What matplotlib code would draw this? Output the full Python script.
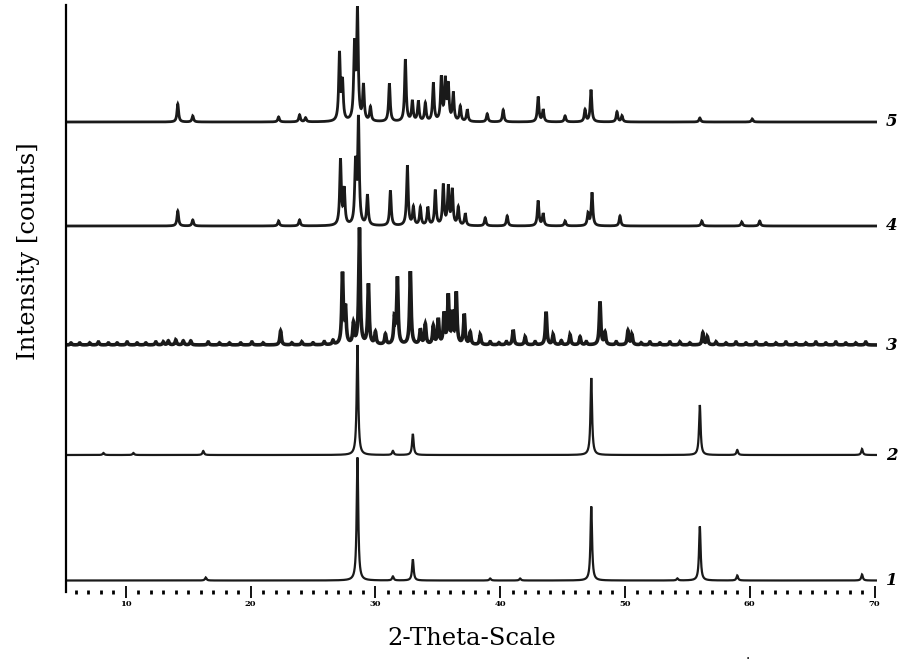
import numpy as np
import matplotlib
matplotlib.use("Agg")
import matplotlib.pyplot as plt
import matplotlib.ticker as mticker

plt.rcParams.update({
    "font.family": ["DejaVu Serif"],
    "font.size": 11,
})

# peak positions (2-theta, deg) and heights (arbitrary counts)
pos1 = [16.4, 31.4, 28.56, 33.0, 39.2, 41.6, 47.3, 54.2, 56.0, 59.0, 69.0]
hgt1 = [3, 4, 123, 21, 2, 2, 74, 2, 54, 5, 6]

pos2 = [8.2, 10.6, 16.2, 31.4, 28.56, 33.0, 47.3, 56.0, 59.0, 69.0]
hgt2 = [2, 2, 4, 4, 110, 21, 77, 50, 5, 6]

pos3 = [13.4, 14.0, 22.4, 27.36, 27.6, 28.24, 28.72, 29.44, 30.0, 30.8,
        31.52, 31.76, 32.8, 33.6, 34.0, 34.64, 35.04, 35.5, 35.84, 36.16,
        36.48, 37.12, 37.6, 38.4, 41.04, 42.0, 43.68, 44.24, 45.6, 46.4,
        48.0, 48.4, 50.24, 50.56, 56.24, 56.6]
hgt3 = [4, 5, 14, 70, 35, 20, 116, 60, 12, 10,
        25, 66, 73, 15, 20, 18, 25, 30, 48, 30,
        51, 30, 12, 10, 15, 8, 33, 10, 10, 8,
        43, 12, 14, 10, 12, 8]
# jagged background of pattern 3
noise3_pos = [5.6, 6.3, 7.1, 7.8, 8.6, 9.3, 10.1, 10.9, 11.6, 12.4, 13.0, 14.6,
              15.2, 16.6, 17.5, 18.3, 19.2, 20.1, 21.0, 23.3, 24.1, 25.0, 25.9,
              26.6, 39.2, 39.9, 40.5, 42.8, 44.9, 46.9, 49.3, 51.3, 52.0, 52.8,
              53.6, 54.4, 55.2, 57.3, 58.1, 58.9, 59.7, 60.5, 61.3, 62.1, 62.9,
              63.7, 64.5, 65.3, 66.1, 66.9, 67.7, 68.5, 69.3]
noise3_hgt = [2, 2, 2, 3, 2, 2, 3, 2, 2, 3, 3, 4,
              4, 3, 2, 2, 2, 3, 2, 2, 3, 2, 3,
              4, 3, 2, 3, 3, 4, 3, 3, 2, 3, 2,
              3, 3, 2, 3, 2, 3, 2, 3, 2, 2, 3,
              2, 2, 3, 2, 3, 2, 2, 3]

pos4 = [14.16, 15.36, 22.24, 23.92, 27.2, 27.5, 28.4, 28.64, 29.36, 31.2,
        32.56, 33.04, 33.6, 34.2, 34.8, 35.44, 35.84, 36.16, 36.64, 37.2,
        38.8, 40.56, 43.04, 43.44, 45.2, 47.04, 47.36, 49.6, 56.16, 59.36, 60.8]
hgt4 = [15, 6, 5, 6, 65, 35, 60, 105, 30, 35,
        60, 18, 18, 18, 35, 40, 38, 35, 18, 12,
        8, 10, 25, 12, 5, 12, 33, 10, 5, 4, 5]

pos5 = [14.16, 15.36, 22.24, 23.92, 24.4, 27.12, 27.36, 28.32, 28.56, 29.04,
        29.6, 31.12, 32.4, 32.96, 33.44, 34.0, 34.64, 35.28, 35.6, 35.84,
        36.24, 36.8, 37.36, 38.96, 40.24, 43.04, 43.44, 45.2, 46.8, 47.28,
        49.36, 49.76, 56.0, 60.2]
hgt5 = [18, 6, 5, 7, 4, 67, 38, 73, 108, 35,
        14, 38, 62, 20, 20, 18, 38, 43, 40, 35,
        28, 15, 12, 8, 12, 25, 12, 6, 12, 32,
        10, 6, 4, 3]

baselines = [11.5, 137, 247, 366, 470]
trace_labels = ["1", "2", "3", "4", "5"]
tick_values = [10, 20, 30, 40, 50, 60, 70]


def pattern(tt, pos, hgt, fwhm):
    y = np.zeros_like(tt)
    g = fwhm / 2.0
    for p, h in zip(pos, hgt):
        y += h * g**2 / ((tt - p)**2 + g**2)
    return y


tt = np.linspace(5.2, 70.2, 6501)
curves = [
    pattern(tt, pos1, hgt1, 0.15),
    pattern(tt, pos2, hgt2, 0.15),
    pattern(tt, pos3, hgt3, 0.14) + pattern(tt, noise3_pos, noise3_hgt, 0.14),
    pattern(tt, pos4, hgt4, 0.15),
    pattern(tt, pos5, hgt5, 0.15),
]
widths = [1.6, 1.6, 2.6, 2.0, 2.0]

fig = plt.figure(figsize=(9, 6.66), dpi=100)
ax = fig.add_axes([66 / 900, 74 / 666, (877 - 66) / 900, (661 - 74) / 666])

for curve, base, lw, lab in zip(curves, baselines, widths, trace_labels):
    ax.plot(tt, curve + base, color="#1a1a1a", linewidth=lw, solid_joinstyle="miter")
    ax.text(70.9, base, lab, fontsize=12, fontstyle="italic", fontweight="bold",
            va="center", ha="left", clip_on=False)

ax.set_xlim(5.2, 70.2)
ax.set_ylim(0, 587)

ax.spines["top"].set_visible(False)
ax.spines["right"].set_visible(False)
ax.spines["bottom"].set_visible(False)
ax.spines["left"].set_linewidth(1.6)

ax.set_xticks(tick_values)
ax.xaxis.set_minor_locator(mticker.MultipleLocator(1))
ax.tick_params(axis="x", which="major", direction="inout", length=9, width=1.3,
               labelsize=6, pad=1)
ax.tick_params(axis="x", which="minor", direction="inout", length=2.2, width=2.0)
for lbl in ax.get_xticklabels():
    lbl.set_fontweight("bold")

ax.set_yticks([])
ax.set_xlabel("2-Theta-Scale", fontsize=17.5, labelpad=14)
ax.set_ylabel("Intensity [counts]", fontsize=17.5)
ax.yaxis.set_label_coords(-0.032, 0.58)

fig.text(748 / 900, 1 - 655 / 666, ".", fontsize=10, ha="center", va="center")

fig.savefig("out.png", dpi=100)
